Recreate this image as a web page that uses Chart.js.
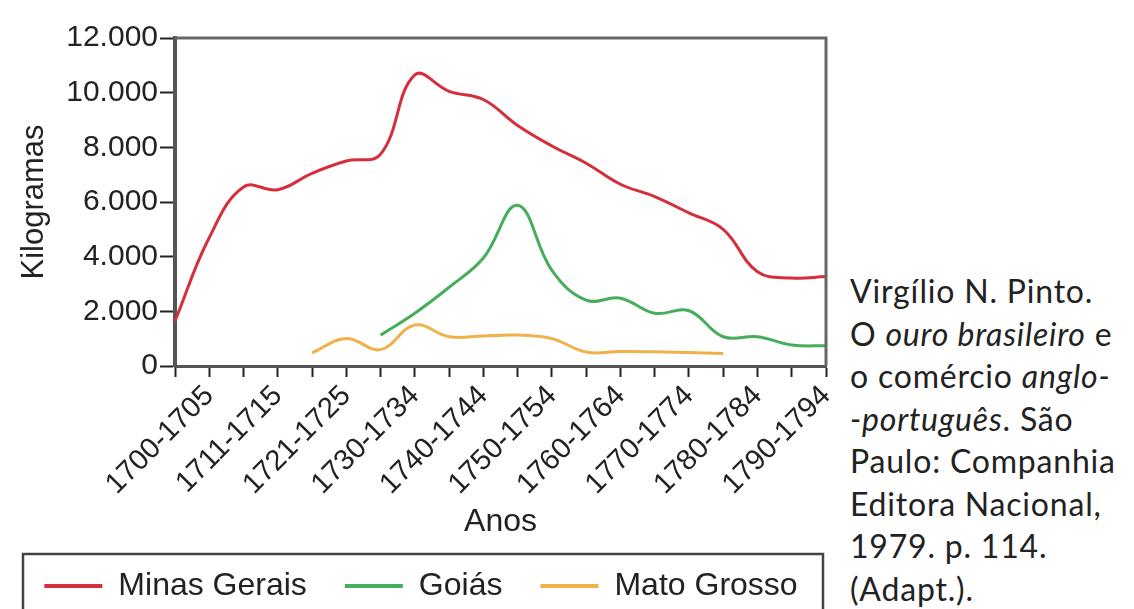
<!DOCTYPE html>
<html>
<head>
<meta charset="utf-8">
<script src="https://cdn.jsdelivr.net/npm/chart.js@4.4.1/dist/chart.umd.min.js"></script>
<style>
    body { margin: 0; background: #fff; }
    #wrap { position: absolute; left: 0; top: 0; width: 842px; height: 609px; }
    #source {
        position: absolute; left: 850px; top: 270px;
        font-family: 'Lato', sans-serif; font-size: 32px; line-height: 42.5px;
        letter-spacing: 0.8px; color: #222; white-space: nowrap;
    }
    #source i { font-style: italic; }
</style>
</head>
<body>
<div id="wrap"><canvas id="lineChart"></canvas></div>
<div id="source">
    <div>Virgílio N. Pinto.</div>
    <div>O <i>ouro brasileiro</i> e</div>
    <div>o comércio <i>anglo-</i></div>
    <div><i>-português</i>. São</div>
    <div>Paulo: Companhia</div>
    <div>Editora Nacional,</div>
    <div>1979. p. 114.</div>
    <div>(Adapt.).</div>
</div>
<script>
const periods = ['', '1700-1705', '1706-1710', '1711-1715', '1716-1720', '1721-1725', '1726-1729',
    '1730-1734', '1735-1739', '1740-1744', '1745-1749', '1750-1754', '1755-1759', '1760-1764',
    '1765-1769', '1770-1774', '1775-1779', '1780-1784', '1785-1789', '1790-1794'];

const minasGerais = [1650, 4700, 6550, 6450, 7050, 7500, 7750, 10650, 10050, 9750,
    8800, 8050, 7420, 6650, 6200, 5600, 5000, 3450, 3220, 3270];
const goias = [null, null, null, null, null, null, 1130, 1930, 2880, 3950,
    5880, 3500, 2410, 2480, 1930, 2020, 1070, 1070, 770, 740];
const matoGrosso = [null, null, null, null, 480, 1010, 600, 1500, 1070, 1100,
    1130, 1000, 510, 530, 520, 490, 460, null, null, null];

const yTicks = [0, 2000, 4000, 6000, 8000, 10000, 12000];

const seriesColors = {
    'Minas Gerais': '#d52e3c',
    'Goiás': '#46ad5c',
    'Mato Grosso': '#f0b04a'
};

function formatKg(value) {
    return String(value).replace(/\B(?=(\d{3})+(?!\d))/g, '.');
}

// frame around plot area and a box around the legend
const framePlugin = {
    id: 'frame',
    afterDraw(chart) {
        const {ctx, chartArea} = chart;
        ctx.save();
        ctx.strokeStyle = '#666';
        ctx.lineWidth = 3;
        ctx.beginPath();
        ctx.moveTo(chartArea.left, chartArea.top);
        ctx.lineTo(chartArea.right, chartArea.top);
        ctx.lineTo(chartArea.right, chartArea.bottom);
        ctx.stroke();
        ctx.strokeStyle = '#444';
        ctx.lineWidth = 2.5;
        ctx.strokeRect(23, 554, 800, 80);
        ctx.restore();
    }
};

const makeDataset = (label, data) => ({
    label: label,
    data: data,
    borderColor: seriesColors[label],
    backgroundColor: seriesColors[label],
    borderWidth: 3,
    pointRadius: 0,
    tension: 0.4,
    fill: false
});

const ctx = document.getElementById('lineChart').getContext('2d');
new Chart(ctx, {
    type: 'line',
    data: {
        labels: periods,
        datasets: [
            makeDataset('Minas Gerais', minasGerais),
            makeDataset('Goiás', goias),
            makeDataset('Mato Grosso', matoGrosso)
        ]
    },
    options: {
        responsive: true,
        maintainAspectRatio: false,
        animation: false,
        layout: {
            padding: { left: 0, right: 0, top: 38, bottom: -3 }
        },
        scales: {
            x: {
                offset: false,
                afterFit: scale => {
                    scale.height = 166;
                    scale.paddingRight = 16;
                },
                border: { display: true, color: '#555', width: 3 },
                grid: {
                    drawOnChartArea: false,
                    drawTicks: true,
                    tickLength: 11,
                    tickWidth: 2,
                    tickColor: '#222',
                    offset: false
                },
                ticks: {
                    autoSkip: false,
                    maxRotation: 45,
                    minRotation: 45,
                    padding: 2,
                    color: '#222',
                    font: { family: 'Liberation Sans, Arial, sans-serif', size: 29 },
                    callback: function(value, index) {
                        return index % 2 === 1 ? this.getLabelForValue(value) : '';
                    }
                },
                title: {
                    display: true,
                    text: 'Anos',
                    color: '#222',
                    font: { family: 'Liberation Sans, Arial, sans-serif', size: 32 },
                    padding: { top: 0, bottom: -9 }
                }
            },
            y: {
                min: 0,
                max: 12000,
                afterFit: scale => { scale.width = 175; },
                afterBuildTicks: scale => { scale.ticks = yTicks.map(v => ({ value: v })); },
                border: { display: true, color: '#555', width: 4 },
                grid: {
                    drawOnChartArea: false,
                    drawTicks: true,
                    tickLength: 15,
                    tickWidth: 2,
                    tickColor: '#222'
                },
                ticks: {
                    padding: 2,
                    color: '#222',
                    font: { family: 'Liberation Sans, Arial, sans-serif', size: 30 },
                    callback: value => formatKg(value)
                },
                title: {
                    display: true,
                    text: 'Kilogramas',
                    color: '#222',
                    font: { family: 'Liberation Sans, Arial, sans-serif', size: 31 },
                    padding: { top: 16, bottom: 0 }
                }
            }
        },
        plugins: {
            tooltip: { enabled: false },
            legend: {
                display: true,
                position: 'bottom',
                labels: {
                    boxWidth: 58,
                    boxHeight: 4,
                    padding: 38,
                    color: '#222',
                    font: { family: 'Liberation Sans, Arial, sans-serif', size: 32 },
                    generateLabels: function(chart) {
                        return Chart.defaults.plugins.legend.labels.generateLabels(chart)
                            .map(item => Object.assign(item, { lineWidth: 0 }));
                    }
                }
            }
        }
    },
    plugins: [framePlugin]
});
</script>
</body>
</html>
